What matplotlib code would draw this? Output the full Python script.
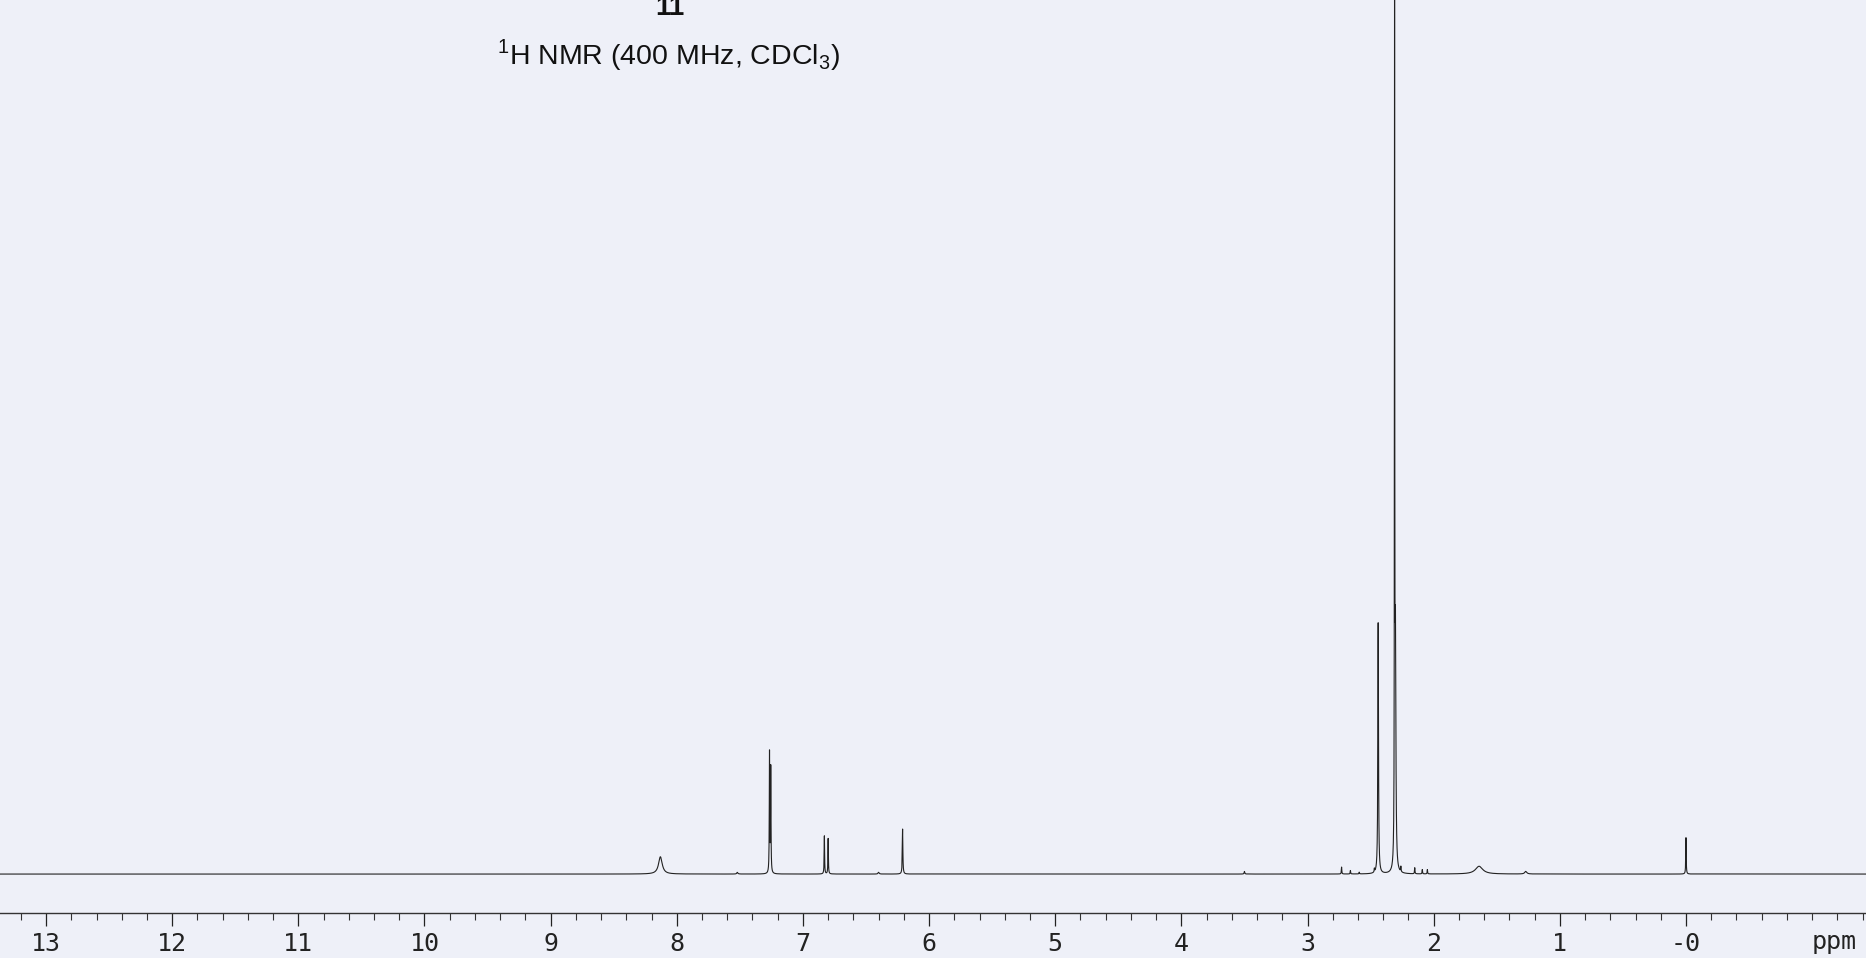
import matplotlib.pyplot as plt
import numpy as np

plt.rcParams['mathtext.fontset'] = 'custom'
plt.rcParams['mathtext.rm'] = 'Liberation Sans'

# peak list: shift (ppm), height (% of tallest), width (ppm, FWHM)
peak_shifts = [8.13, 7.52, 7.265, 7.255, 6.83, 6.80, 6.40, 6.21, 3.50,
               2.73, 2.66, 2.59, 2.47, 2.44, 2.31, 2.303, 2.26, 2.15,
               2.09, 2.05, 1.64, 1.27, 0.00]
peak_heights = [2.0, 0.2, 14.0, 12.2, 4.4, 4.1, 0.2, 5.2, 0.3,
                0.8, 0.4, 0.2, 0.4, 29.0, 100.0, 26.5, 0.6, 0.7,
                0.5, 0.5, 0.9, 0.3, 4.2]
peak_widths = [0.035, 0.01, 0.004, 0.004, 0.004, 0.004, 0.01, 0.005, 0.006,
               0.004, 0.004, 0.004, 0.004, 0.006, 0.003, 0.008, 0.004, 0.004,
               0.004, 0.004, 0.07, 0.02, 0.004]

major_ticks = list(range(13, -1, -1))
major_labels = [str(v) for v in major_ticks[:-1]] + ['-0']

title = r'$^{1}$H NMR (400 MHz, CDCl$_{3}$)'
compound = '11'

bg = '#eef0f8'

ppm = np.arange(-1.5, 13.5, 0.0004)
spec = np.zeros_like(ppm)
for s, h, w in zip(peak_shifts, peak_heights, peak_widths):
    g = (w / 2) ** 2
    spec += h * g / ((ppm - s) ** 2 + g)

fig = plt.figure(figsize=(18.66, 9.58), dpi=100, facecolor=bg)
ax = fig.add_axes([0, 45 / 958, 1, 913 / 958])
ax.set_facecolor(bg)

ax.plot(ppm, spec, color='#222222', lw=0.8)

ax.set_xlim(13.365, -1.427)
ax.set_ylim(-4.5, 101.0)

for side in ['top', 'left', 'right']:
    ax.spines[side].set_visible(False)
ax.spines['bottom'].set_color('#333333')
ax.spines['bottom'].set_linewidth(1.0)
ax.set_yticks([])

ax.set_xticks(major_ticks)
ax.set_xticklabels(major_labels, family='DejaVu Sans Mono', fontsize=18)
ax.set_xticks(np.arange(13.2, -1.41, -0.2), minor=True)
ax.tick_params(axis='x', which='major', direction='out', length=9.5, width=0.9,
               pad=4, colors='#222222')
ax.tick_params(axis='x', which='minor', direction='out', length=5, width=0.8,
               colors='#333333')

# axis unit sits at the right end, level with the tick labels
fig.text(1834 / 1866, 16 / 958, 'ppm', ha='center', va='center',
         family='DejaVu Sans Mono', fontsize=18, color='#222222')

fig.text(668 / 1866, 1 - 55 / 958, title, ha='center', va='center',
         family='Liberation Sans', fontsize=20.5, color='#111111')
# compound number runs off the top edge, as on the scanned page
fig.text(670 / 1866, 1 - 15 / 958, compound, ha='center', va='baseline',
         family='Liberation Sans', fontsize=20, fontweight='bold', color='#111111')

fig.savefig('out.png', dpi=100, facecolor=bg)
